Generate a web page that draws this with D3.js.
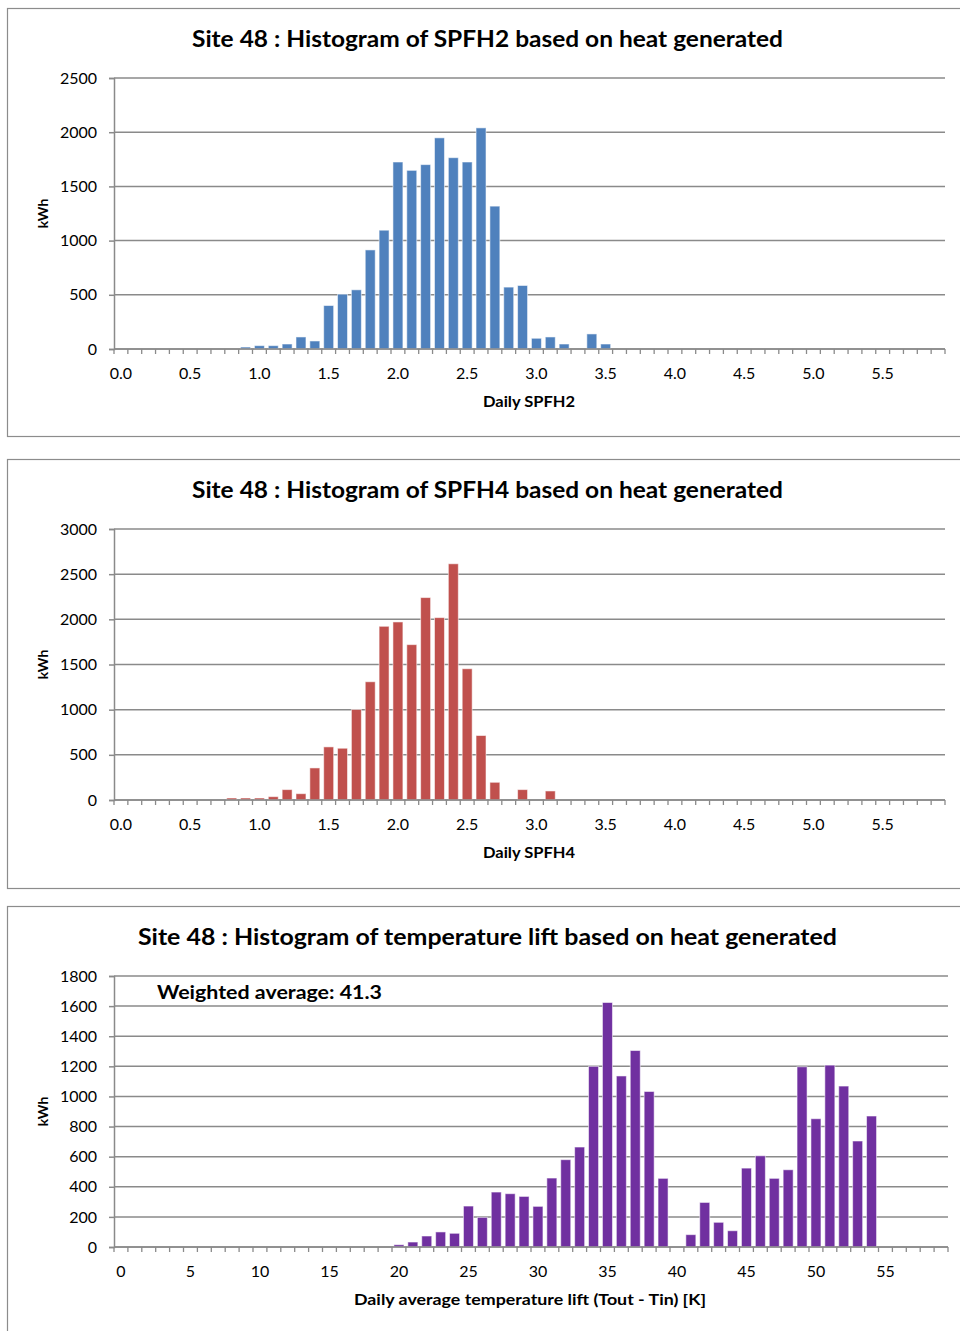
<!DOCTYPE html>
<html>
<head>
<meta charset="utf-8">
<script src="https://cdn.jsdelivr.net/npm/d3@7"></script>
<style>
  body { margin: 0; background: #fff; }
  svg { display: block; }
  text { font-family: Lato, "Open Sans", "Liberation Sans", sans-serif; fill: #000; }
</style>
</head>
<body>
<svg id="chart" width="960" height="1331"></svg>
<script>
// SPF bins (0.1 wide) shared by the SPFH2 and SPFH4 histograms
const spfCategories = [
  "0.0","0.1","0.2","0.3","0.4","0.5","0.6","0.7","0.8","0.9",
  "1.0","1.1","1.2","1.3","1.4","1.5","1.6","1.7","1.8","1.9",
  "2.0","2.1","2.2","2.3","2.4","2.5","2.6","2.7","2.8","2.9",
  "3.0","3.1","3.2","3.3","3.4","3.5","3.6","3.7","3.8","3.9",
  "4.0","4.1","4.2","4.3","4.4","4.5","4.6","4.7","4.8","4.9",
  "5.0","5.1","5.2","5.3","5.4","5.5","5.6","5.7","5.8","5.9"
];
const spfTickLabels = ["0.0","0.5","1.0","1.5","2.0","2.5","3.0","3.5","4.0","4.5","5.0","5.5"];

// Heat generated (kWh) per daily SPFH2 bin
const spfh2Values = [
  0, 0, 0, 0, 0, 0, 0, 0, 0, 18,
  31, 31, 46, 111, 74, 401, 506, 546, 914, 1096,
  1725, 1648, 1701, 1948, 1765, 1725, 2040, 1318, 571, 586,
  99, 111, 46, 0, 139, 46, 0, 0, 0, 0,
  0, 0, 0, 0, 0, 0, 0, 0, 0, 0,
  0, 0, 0, 0, 0, 0, 0, 0, 0, 0
];

// Heat generated (kWh) per daily SPFH4 bin
const spfh4Values = [
  0, 0, 0, 0, 0, 0, 0, 0, 22, 22,
  22, 37, 115, 70, 355, 588, 573, 1002, 1309, 1923,
  1971, 1720, 2241, 2019, 2615, 1453, 714, 196, 0, 115,
  0, 100, 0, 0, 0, 0, 0, 0, 0, 0,
  0, 0, 0, 0, 0, 0, 0, 0, 0, 0,
  0, 0, 0, 0, 0, 0, 0, 0, 0, 0
];

// Temperature lift bins (1 K wide)
const liftCategories = [
  "0","1","2","3","4","5","6","7","8","9",
  "10","11","12","13","14","15","16","17","18","19",
  "20","21","22","23","24","25","26","27","28","29",
  "30","31","32","33","34","35","36","37","38","39",
  "40","41","42","43","44","45","46","47","48","49",
  "50","51","52","53","54","55","56","57","58","59"
];
const liftTickLabels = ["0","5","10","15","20","25","30","35","40","45","50","55"];

// Heat generated (kWh) per daily average temperature lift bin
const liftValues = [
  0, 0, 0, 0, 0, 0, 0, 0, 0, 0,
  0, 0, 0, 0, 0, 0, 0, 0, 0, 0,
  15, 33, 73, 100, 91, 272, 197, 365, 354, 336,
  270, 458, 580, 664, 1200, 1624, 1136, 1305, 1033, 456,
  0, 82, 296, 164, 108, 524, 606, 456, 513, 1197,
  852, 1208, 1069, 704, 870, 0, 0, 0, 0, 0
];

const yTicksSpfh2 = [0, 500, 1000, 1500, 2000, 2500];
const yTicksSpfh4 = [0, 500, 1000, 1500, 2000, 2500, 3000];
const yTicksLift = [0, 200, 400, 600, 800, 1000, 1200, 1400, 1600, 1800];

const svg = d3.select("#chart");
const gridColor = "#8a8a8a";

function drawPanel(opt) {
  const g = svg.append("g").attr("transform", `translate(0,${opt.top})`);

  // panel frame (runs off the right edge of the page)
  g.append("rect")
    .attr("x", 7.5).attr("y", 0.5)
    .attr("width", 1000).attr("height", opt.frameHeight)
    .attr("fill", "#fff").attr("stroke", "#8c8c8c").attr("stroke-width", 1.2);

  const left = 114, right = opt.right, plotTop = 70, plotBottom = 341;

  const x = d3.scaleBand()
    .domain(opt.categories)
    .range([left, right])
    .paddingInner(0.28)
    .paddingOuter(0.14);

  const y = d3.scaleLinear()
    .domain([0, d3.max(opt.yTicks)])
    .range([plotBottom, plotTop]);

  // horizontal gridlines
  g.append("g").selectAll("line")
    .data(opt.yTicks)
    .join("line")
    .attr("x1", left).attr("x2", right)
    .attr("y1", d => y(d)).attr("y2", d => y(d))
    .attr("stroke", gridColor).attr("stroke-width", 1.5);

  // y axis
  const yAxis = g.append("g")
    .attr("transform", `translate(${left},0)`)
    .call(d3.axisLeft(y).tickValues(opt.yTicks).tickSize(5).tickPadding(12).tickFormat(d3.format("d")));
  yAxis.select(".domain").attr("stroke", gridColor).attr("stroke-width", 1.5);
  yAxis.selectAll(".tick line").attr("stroke", gridColor).attr("stroke-width", 1.5);
  yAxis.selectAll(".tick text")
    .style("font-family", "Lato, 'Open Sans', sans-serif")
    .style("font-size", "16px").attr("fill", "#000");

  // bars
  const data = opt.categories.map((c, i) => ({ c, v: opt.values[i] })).filter(d => d.v > 0);
  g.append("g").selectAll("rect")
    .data(data)
    .join("rect")
    .attr("x", d => x(d.c))
    .attr("width", x.bandwidth())
    .attr("y", d => y(d.v))
    .attr("height", d => y(0) - y(d.v))
    .attr("fill", opt.color)
    .attr("stroke", "#ffffff").attr("stroke-opacity", 0.55).attr("stroke-width", 1);

  // x axis line and category boundary ticks
  g.append("line")
    .attr("x1", left).attr("x2", right)
    .attr("y1", plotBottom).attr("y2", plotBottom)
    .attr("stroke", gridColor).attr("stroke-width", 1.5);
  const step = x.step();
  const boundaries = opt.categories.map(c => x(c) - (step - x.bandwidth()) / 2).concat([right]);
  g.append("g").selectAll("line")
    .data(boundaries)
    .join("line")
    .attr("x1", d => d).attr("x2", d => d)
    .attr("y1", plotBottom).attr("y2", plotBottom + 5)
    .attr("stroke", gridColor).attr("stroke-width", 1.3);

  // x tick labels at the centre of every fifth bin
  g.append("g").selectAll("text")
    .data(opt.tickLabels)
    .join("text")
    .attr("x", d => x(d) + x.bandwidth() / 2)
    .attr("y", plotBottom + 24)
    .attr("dy", "0.35em")
    .attr("text-anchor", "middle")
    .style("font-size", "16px")
    .text(d => d);

  // titles
  g.append("text")
    .attr("x", opt.titleX).attr("y", 39)
    .attr("textLength", opt.titleLength).attr("lengthAdjust", "spacingAndGlyphs")
    .style("font-size", "22px").style("font-weight", "bold")
    .text(opt.title);

  g.append("text")
    .attr("x", opt.xTitleX).attr("y", plotBottom + 58)
    .attr("textLength", opt.xTitleLength).attr("lengthAdjust", "spacingAndGlyphs")
    .style("font-size", "15px").style("font-weight", "bold")
    .text(opt.xTitle);

  g.append("text")
    .attr("transform", `translate(48,${(plotTop + plotBottom) / 2}) rotate(-90)`)
    .attr("text-anchor", "middle")
    .style("font-size", "14px").style("font-weight", "bold")
    .text("kWh");

  if (opt.note) {
    g.append("text")
      .attr("x", 157).attr("y", 93)
      .attr("textLength", 225).attr("lengthAdjust", "spacingAndGlyphs")
      .style("font-size", "19px").style("font-weight", "bold")
      .text(opt.note);
  }
}

drawPanel({
  top: 8, frameHeight: 428, right: 945,
  categories: spfCategories, values: spfh2Values, tickLabels: spfTickLabels,
  yTicks: yTicksSpfh2, color: "#4f81bd",
  title: "Site 48 : Histogram of SPFH2 based on heat generated", titleX: 192, titleLength: 591,
  xTitle: "Daily SPFH2", xTitleX: 483, xTitleLength: 92
});

drawPanel({
  top: 459, frameHeight: 429, right: 945,
  categories: spfCategories, values: spfh4Values, tickLabels: spfTickLabels,
  yTicks: yTicksSpfh4, color: "#c0504d",
  title: "Site 48 : Histogram of SPFH4 based on heat generated", titleX: 192, titleLength: 591,
  xTitle: "Daily SPFH4", xTitleX: 483, xTitleLength: 92
});

drawPanel({
  top: 906, frameHeight: 440, right: 948,
  categories: liftCategories, values: liftValues, tickLabels: liftTickLabels,
  yTicks: yTicksLift, color: "#7030a0",
  title: "Site 48 : Histogram of temperature lift based on heat generated", titleX: 138, titleLength: 699,
  xTitle: "Daily average temperature lift (Tout - Tin) [K]", xTitleX: 354, xTitleLength: 352,
  note: "Weighted average: 41.3"
});
</script>
</body>
</html>
